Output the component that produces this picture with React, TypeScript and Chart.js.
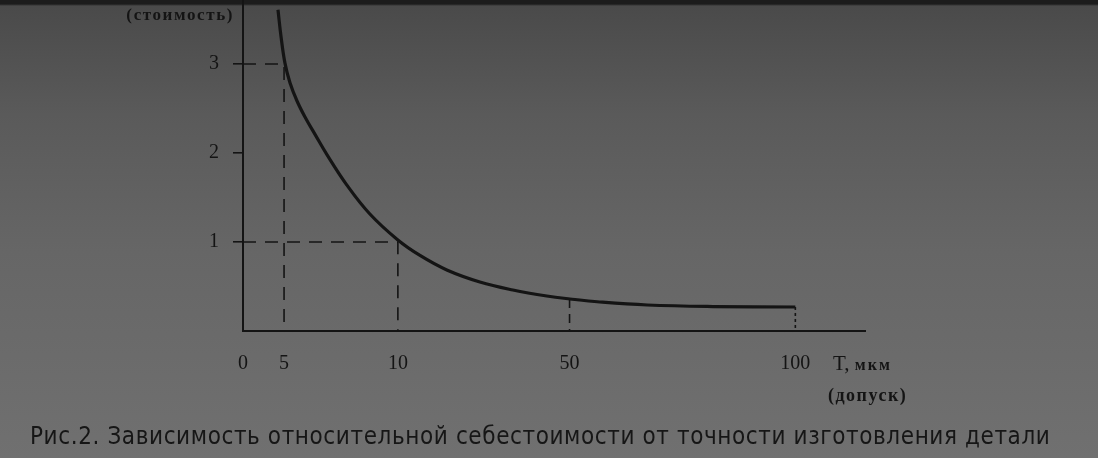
import React, { useEffect, useRef } from 'react';
import { Chart, registerables, LinearScale } from 'chart.js';

Chart.register(...registerables);

// ---- data ----
const toleranceTicks = [0, 5, 10, 50, 100];
const costTicks = [0, 1, 2, 3];

const curveT = [4.26, 4.63, 5.04, 5.26, 5.57, 5.92, 6.36, 6.89, 7.76, 8.77, 10, 15.15, 21.4, 29.1, 36.8, 44.7, 50.1, 56.7, 67.2, 81.8, 100];
const curveCost = [3.61, 3.31, 3.01, 2.79, 2.585, 2.405, 2.21, 1.98, 1.64, 1.315, 1.023, 0.849, 0.686, 0.551, 0.461, 0.393, 0.36, 0.326, 0.292, 0.275, 0.27];

const levelGuideT = [5, 10];
const levelGuideCost = [3, 1];
const dropGuideT = [50, 100];
const dropGuideCost = [0.36, 0.27];

const captionText = 'Рис.2. Зависимость относительной себестоимости от точности изготовления детали';
const yAxisName = '(стоимость)';
const xAxisName = 'T,';
const xAxisUnit = 'мкм';
const xAxisNote = '(допуск)';

// The figure is a sketch: the tolerance axis is not to scale. These stops
// define the (piecewise linear) axis: tolerance value -> fraction of axis length.
const axisStopValues = [0, 5, 10, 50, 100, 115];
const axisStopFractions = [0, 0.066, 0.249, 0.525, 0.888, 1];

const INK = '#141414';
const SERIF = '"Liberation Serif", "Times New Roman", serif';

class PiecewiseScale extends LinearScale {
  static id = 'piecewise';
  static defaults = LinearScale.defaults;
  getPixelForValue(value: number) {
    if (value === null || value === undefined || isNaN(value)) return NaN;
    const vs = axisStopValues;
    const fs = axisStopFractions;
    let i = 1;
    while (i < vs.length - 1 && value > vs[i]) i++;
    const f = fs[i - 1] + ((value - vs[i - 1]) / (vs[i] - vs[i - 1])) * (fs[i] - fs[i - 1]);
    return this.getPixelForDecimal(f);
  }
  getValueForPixel(pixel: number) {
    const f = this.getDecimalForPixel(pixel);
    const vs = axisStopValues;
    const fs = axisStopFractions;
    let i = 1;
    while (i < fs.length - 1 && f > fs[i]) i++;
    return vs[i - 1] + ((f - fs[i - 1]) / (fs[i] - fs[i - 1])) * (vs[i] - vs[i - 1]);
  }
}
Chart.register(PiecewiseScale as any);

const figureTexts = {
  id: 'figureTexts',
  afterDraw(chart: any) {
    const { ctx, chartArea } = chart;
    ctx.save();
    ctx.fillStyle = INK;
    ctx.textBaseline = 'middle';

    ctx.textAlign = 'right';
    ctx.font = `bold 17px ${SERIF}`;
    (ctx as any).letterSpacing = '1.6px';
    ctx.fillText(yAxisName, chartArea.left - 9, 16);

    ctx.textAlign = 'left';
    const tx = chartArea.right - 32;
    (ctx as any).letterSpacing = '0px';
    ctx.font = `21px ${SERIF}`;
    ctx.fillText(xAxisName, tx, 364);
    const w = ctx.measureText(xAxisName + ' ').width;
    ctx.font = `bold 16px ${SERIF}`;
    (ctx as any).letterSpacing = '2px';
    ctx.fillText(xAxisUnit, tx + w, 366);

    ctx.font = `bold 18px ${SERIF}`;
    (ctx as any).letterSpacing = '1.5px';
    ctx.fillText(xAxisNote, tx - 5, 396);

    ctx.font = '24px "DejaVu Sans Condensed", "Liberation Sans Narrow", "DejaVu Sans", sans-serif';
    (ctx as any).letterSpacing = '0.6px';
    ctx.fillStyle = '#161616';
    ctx.fillText(captionText, 30, 438);
    ctx.restore();
  },
};

export default function App() {
  const ref = useRef<HTMLCanvasElement | null>(null);

  useEffect(() => {
    if (!ref.current) return;

    const datasets: any[] = [];
    datasets.push({
      data: curveT.map((t, i) => ({ x: t, y: curveCost[i] })),
      borderColor: INK,
      borderWidth: 3.2,
      pointRadius: 0,
      tension: 0.4,
      fill: false,
    });
    levelGuideT.forEach((t, i) => {
      const c = levelGuideCost[i];
      datasets.push({
        data: [
          { x: 0, y: c },
          { x: t, y: c },
          { x: t, y: 0 },
        ],
        borderColor: INK,
        borderWidth: 1.6,
        borderDash: [13, 9],
        pointRadius: 0,
        tension: 0,
        fill: false,
      });
    });
    const dropDash = [
      [9, 6],
      [3, 3],
    ];
    dropGuideT.forEach((t, i) => {
      datasets.push({
        data: [
          { x: t, y: dropGuideCost[i] },
          { x: t, y: 0 },
        ],
        borderColor: INK,
        borderWidth: 1.6,
        borderDash: dropDash[i],
        pointRadius: 0,
        tension: 0,
        fill: false,
      });
    });

    const chart = new Chart(ref.current, {
      type: 'line',
      data: { datasets },
      plugins: [figureTexts],
      options: {
        animation: false,
        responsive: false,
        layout: { padding: { left: 0, right: 233, top: 0, bottom: 0 } },
        plugins: {
          legend: { display: false },
          tooltip: { enabled: false },
        },
        scales: {
          x: {
            type: 'piecewise' as any,
            min: 0,
            max: 115,
            afterBuildTicks: (scale: any) => {
              scale.ticks = toleranceTicks.map((v) => ({ value: v }));
            },
            afterFit: (scale: any) => {
              scale.height = 127;
              scale.paddingLeft = 0;
              scale.paddingRight = 0;
            },
            grid: { display: false, drawTicks: false },
            border: { display: true, color: INK, width: 2 },
            ticks: {
              autoSkip: false,
              maxRotation: 0,
              padding: 21,
              color: INK,
              font: { family: SERIF, size: 20 },
              callback: (v: any) => String(v),
            },
          },
          y: {
            type: 'linear',
            min: 0,
            max: 3.72,
            afterBuildTicks: (scale: any) => {
              scale.ticks = costTicks.map((v) => ({ value: v }));
            },
            afterFit: (scale: any) => {
              scale.width = 243;
              scale.paddingTop = 0;
              scale.paddingBottom = 0;
            },
            grid: {
              display: true,
              drawOnChartArea: false,
              drawTicks: true,
              tickLength: 10,
              lineWidth: 1.6,
              color: (ctx: any) => (ctx.tick && ctx.tick.value === 0 ? 'rgba(0,0,0,0)' : INK),
            },
            border: { display: true, color: INK, width: 2 },
            ticks: {
              padding: 14,
              color: INK,
              font: { family: SERIF, size: 20 },
              callback: (v: any) => (v === 0 ? '' : String(v)),
            },
          },
        },
      } as any,
    });
    return () => chart.destroy();
  }, []);

  return (
    <div
      style={{
        position: 'absolute',
        left: 0,
        top: 0,
        width: 1098,
        height: 458,
        background:
          'linear-gradient(180deg, #1c1c1c 0px, #1c1c1c 4px, #4a4a4a 6px, #5a5a5a 25%, #666666 55%, #707070 100%)',
      }}
    >
      <canvas ref={ref} width={1098} height={458} style={{ width: 1098, height: 458, display: 'block' }} />
    </div>
  );
}
